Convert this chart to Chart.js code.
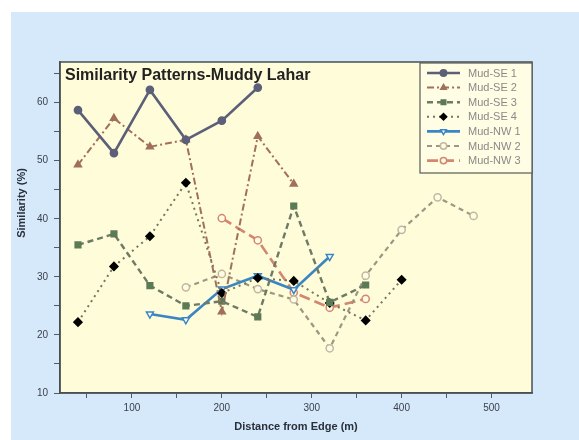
<!DOCTYPE html>
<html>
<head>
<meta charset="utf-8">
<script src="https://cdn.jsdelivr.net/npm/chart.js@4.4.0/dist/chart.umd.min.js"></script>
<style>
  html, body { margin: 0; padding: 0; background: #fff; }
  canvas { display: block; }
</style>
</head>
<body>
<canvas id="chart" width="579" height="440"></canvas>
<script>
// Data (distance in m, similarity in %)
const distances = [40, 80, 120, 160, 200, 240, 280, 320, 360, 400, 440, 480];
const mudSE1 = [58.7, 51.3, 62.2, 53.6, 56.9, 62.6, null, null, null, null, null, null];
const mudSE2 = [49.3, 57.3, 52.4, 53.6, 24.0, 54.2, 46.0, null, null, null, null, null];
const mudSE3 = [35.5, 37.4, 28.5, 25.0, 25.8, 23.1, 42.2, 25.6, 28.6, null, null, null];
const mudSE4 = [22.2, 31.8, 37.0, 46.2, 27.2, 29.8, 29.3, 25.5, 22.5, 29.5, null, null];
const mudNW1 = [null, null, 23.6, 22.6, 27.9, 30.2, 27.8, 33.5, null, null, null, null];
const mudNW2 = [null, null, null, 28.2, 30.5, 27.9, 26.1, 17.7, 30.2, 38.1, 43.7, 40.5];
const mudNW3 = [null, null, null, null, 40.1, 36.3, 27.3, 24.7, 26.2, null, null, null];

const xTickLabels = [100, 200, 300, 400, 500];
const yTickLabels = [10, 20, 30, 40, 50, 60];

function points(values) {
    const out = [];
    values.forEach(function(v, i) {
        if (v !== null) out.push({ x: distances[i], y: v });
    });
    return out;
}

const FONT = '"Liberation Sans", Arial, sans-serif';

// backgrounds, frame, title, axis titles and the inside legend
const decorPlugin = {
    id: 'decor',
    beforeDraw: function(chart) {
        const ctx = chart.ctx;
        const a = chart.chartArea;
        ctx.save();
        ctx.fillStyle = '#ffffff';
        ctx.fillRect(0, 0, chart.width, chart.height);
        ctx.fillStyle = '#d5e9fb';
        ctx.fillRect(11, 12, chart.width - 11, chart.height - 12);
        ctx.fillStyle = '#fffcd9';
        ctx.fillRect(a.left, a.top, a.right - a.left, a.bottom - a.top);
        ctx.restore();
    },
    afterDraw: function(chart) {
        const ctx = chart.ctx;
        const a = chart.chartArea;
        ctx.save();

        // frame
        ctx.strokeStyle = '#4a4f55';
        ctx.lineWidth = 1.5;
        ctx.strokeRect(a.left, a.top, a.right - a.left, a.bottom - a.top);

        // title inside the plot
        ctx.fillStyle = '#222222';
        ctx.font = 'bold 16px ' + FONT;
        ctx.textBaseline = 'alphabetic';
        ctx.textAlign = 'left';
        ctx.fillText('Similarity Patterns-Muddy Lahar', a.left + 5, a.top + 18);

        // axis titles
        ctx.fillStyle = '#2a2f3a';
        ctx.font = 'bold 11px ' + FONT;
        ctx.textAlign = 'center';
        ctx.textBaseline = 'middle';
        ctx.fillText('Distance from Edge (m)', (a.left + a.right) / 2, 427);
        ctx.save();
        ctx.translate(22, 203);
        ctx.rotate(-Math.PI / 2);
        ctx.fillText('Similarity (%)', 0, 0);
        ctx.restore();

        // legend box
        const bx = 420, by = 63, bw = a.right - 420, bh = 110;
        ctx.fillStyle = '#fffde3';
        ctx.fillRect(bx, by, bw, bh);
        ctx.strokeStyle = '#5a5a55';
        ctx.lineWidth = 1.2;
        ctx.strokeRect(bx, by, bw, bh);
        chart.data.datasets.forEach(function(ds, i) {
            const y = 73 + i * 14.6;
            ctx.save();
            ctx.strokeStyle = ds.borderColor;
            ctx.lineWidth = ds.borderWidth;
            ctx.setLineDash(ds.borderDash || []);
            ctx.beginPath();
            ctx.moveTo(427, y);
            ctx.lineTo(460, y);
            ctx.stroke();
            ctx.setLineDash([]);
            ctx.fillStyle = ds.pointBackgroundColor;
            ctx.strokeStyle = ds.pointBorderColor;
            ctx.lineWidth = 1.5;
            Chart.helpers.drawPoint(ctx, {
                pointStyle: ds.pointStyle,
                radius: 3.2,
                rotation: ds.pointRotation || 0,
                borderWidth: 1.5
            }, 443.5, y);
            ctx.restore();
            ctx.fillStyle = '#8a8a88';
            ctx.font = '11px ' + FONT;
            ctx.textAlign = 'left';
            ctx.textBaseline = 'middle';
            ctx.fillText(ds.label, 468, y + 0.5);
        });
        ctx.restore();
    }
};

function series(label, values, color, opts) {
    return Object.assign({
        label: label,
        data: points(values),
        borderColor: color,
        borderWidth: 2,
        pointBackgroundColor: color,
        pointBorderColor: color,
        pointBorderWidth: 1.5,
        pointRadius: 3.6,
        pointStyle: 'circle',
        fill: false,
        tension: 0
    }, opts);
}

const ctx = document.getElementById('chart').getContext('2d');
const chart = new Chart(ctx, {
    type: 'line',
    data: {
        datasets: [
            series('Mud-SE 1', mudSE1, '#5b6078', { borderWidth: 2.6 }),
            series('Mud-SE 2', mudSE2, '#a0705a', { borderDash: [7, 3, 2, 3], pointStyle: 'triangle', pointRadius: 4 }),
            series('Mud-SE 3', mudSE3, '#6d7a64', { borderWidth: 2.4, borderDash: [6, 4], pointStyle: 'rect', pointRadius: 4,
                pointBackgroundColor: '#5c7a56', pointBorderColor: '#5c7a56' }),
            series('Mud-SE 4', mudSE4, '#77745c', { borderDash: [2, 4], pointStyle: 'rectRot', pointRadius: 4,
                pointBackgroundColor: '#000000', pointBorderColor: '#000000' }),
            series('Mud-NW 1', mudNW1, '#3a86c4', { borderWidth: 2.6, pointStyle: 'triangle', pointRotation: 180,
                pointRadius: 4, pointBackgroundColor: '#ffffff' }),
            series('Mud-NW 2', mudNW2, '#9c9682', { borderWidth: 2.2, borderDash: [5, 4],
                pointBackgroundColor: '#fffce4', pointBorderColor: '#c2b8a0' }),
            series('Mud-NW 3', mudNW3, '#d4866e', { borderWidth: 2.6, borderDash: [11, 5],
                pointBackgroundColor: '#fffce4', pointBorderColor: '#d4866e' })
        ]
    },
    options: {
        responsive: false,
        animation: false,
        layout: { padding: { left: 0, top: 62, right: 47, bottom: 0 } },
        plugins: {
            legend: { display: false },
            tooltip: { enabled: false }
        },
        scales: {
            x: {
                type: 'linear',
                min: 20,
                max: 545,
                afterBuildTicks: function(scale) {
                    scale.ticks = scale.ticks.filter(function(t) { return t.value % 50 === 0; });
                },
                afterFit: function(scale) { scale.height = 47; },
                ticks: {
                    stepSize: 50,
                    autoSkip: false,
                    maxRotation: 0,
                    padding: 4,
                    color: '#3a3f4a',
                    font: { family: FONT, size: 10 },
                    callback: function(v) { return xTickLabels.includes(v) ? String(v) : ''; }
                },
                grid: { drawOnChartArea: false, tickLength: 5, tickColor: '#555a60' },
                border: { color: '#4a4f55', width: 1.5 }
            },
            y: {
                min: 10,
                max: 67,
                afterBuildTicks: function(scale) {
                    scale.ticks = scale.ticks.filter(function(t) { return t.value % 5 === 0; });
                },
                afterFit: function(scale) { scale.width = 60; },
                ticks: {
                    stepSize: 5,
                    autoSkip: false,
                    padding: 6,
                    color: '#3a3f4a',
                    font: { family: FONT, size: 10 },
                    callback: function(v) { return yTickLabels.includes(v) ? String(v) : ''; }
                },
                grid: { drawOnChartArea: false, tickLength: 6, tickColor: '#555a60' },
                border: { color: '#4a4f55', width: 1.5 }
            }
        }
    },
    plugins: [decorPlugin]
});
</script>
</body>
</html>
